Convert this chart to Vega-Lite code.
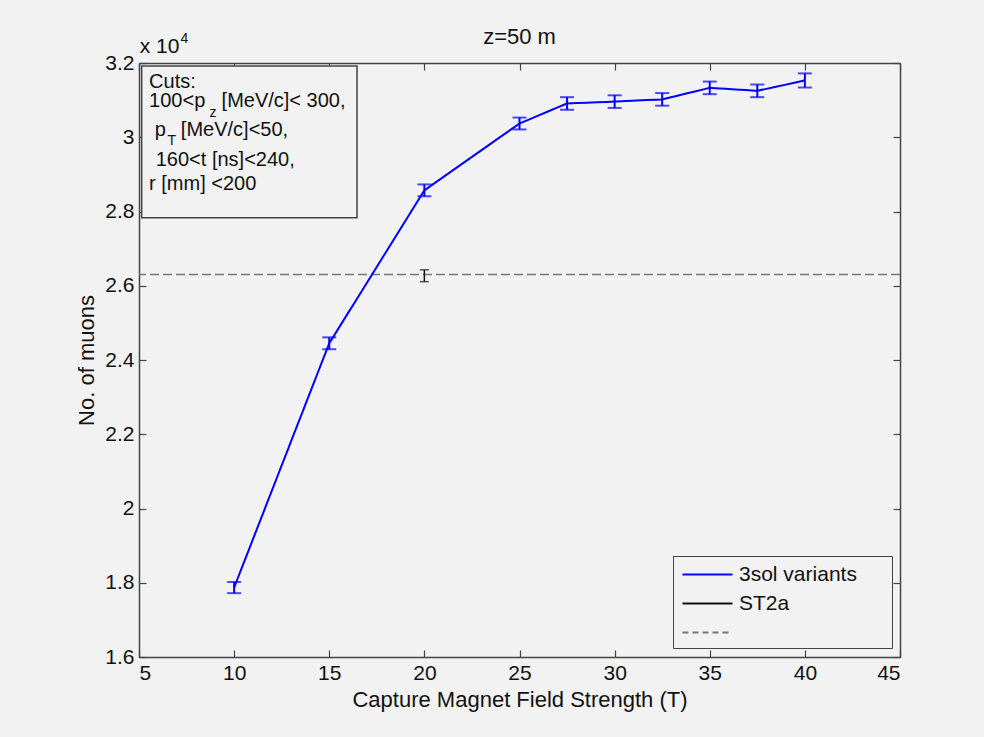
{
  "$schema": "https://vega.github.io/schema/vega-lite/v6.json",
  "width": 761,
  "height": 594,
  "autosize": {"type": "none"},
  "padding": {"left": 139, "top": 63, "right": 84, "bottom": 80},
  "background": "#f2f2f2",
  "config": {
    "font": "Liberation Sans",
    "view": {"stroke": null},
    "axis": {
      "domainColor": "#444",
      "domainWidth": 1.5,
      "tickColor": "#444",
      "tickWidth": 1.2,
      "tickSize": -7,
      "labelFontSize": 21,
      "labelColor": "#111",
      "titleFontSize": 22,
      "titleFontWeight": "normal",
      "titleColor": "#111",
      "grid": false
    },
    "legend": {
      "symbolType": "M-2,0H2",
      "symbolSize": 625,
      "symbolOffset": 16,
      "symbolStrokeWidth": 2,
      "labelFontSize": 21,
      "labelColor": "#111",
      "labelOffset": 18,
      "labelLimit": 400,
      "fillColor": "#f2f2f2",
      "strokeColor": "#444",
      "padding": 5,
      "rowPadding": 5
    }
  },
  "title": {"text": "z=50 m", "fontSize": 22, "fontWeight": "normal", "color": "#111", "offset": -17},
  "datasets": {
    "muons": [
      {"field_T": 10, "muons": 1.787, "lo": 1.772, "hi": 1.802, "series": "3sol variants"},
      {"field_T": 15, "muons": 2.445, "lo": 2.429, "hi": 2.461, "series": "3sol variants"},
      {"field_T": 20, "muons": 2.857, "lo": 2.841, "hi": 2.873, "series": "3sol variants"},
      {"field_T": 25, "muons": 3.037, "lo": 3.021, "hi": 3.053, "series": "3sol variants"},
      {"field_T": 27.5, "muons": 3.091, "lo": 3.074, "hi": 3.108, "series": "3sol variants"},
      {"field_T": 30, "muons": 3.096, "lo": 3.079, "hi": 3.113, "series": "3sol variants"},
      {"field_T": 32.5, "muons": 3.102, "lo": 3.085, "hi": 3.119, "series": "3sol variants"},
      {"field_T": 35, "muons": 3.133, "lo": 3.116, "hi": 3.150, "series": "3sol variants"},
      {"field_T": 37.5, "muons": 3.125, "lo": 3.108, "hi": 3.142, "series": "3sol variants"},
      {"field_T": 40, "muons": 3.153, "lo": 3.134, "hi": 3.172, "series": "3sol variants"}
    ],
    "st2a": [
      {"field_T": 20, "muons": 2.627, "lo": 2.611, "hi": 2.643, "series": "ST2a"}
    ],
    "one": [{}]
  },
  "layer": [
    {
      "data": {"name": "one"},
      "mark": {"type": "rule", "strokeDash": [9, 4], "color": "#777", "strokeWidth": 1.5},
      "encoding": {
        "y": {"datum": 2.63, "type": "quantitative", "scale": {"domain": [1.6, 3.2], "nice": false, "zero": false}, "axis": null}
      }
    },
    {
      "data": {"name": "muons"},
      "mark": {"type": "line", "strokeWidth": 2},
      "encoding": {
        "x": {"field": "field_T", "type": "quantitative", "scale": {"domain": [5, 45], "nice": false, "zero": false},
              "axis": {"orient": "bottom", "values": [5, 10, 15, 20, 25, 30, 35, 40, 45], "title": "Capture Magnet Field Strength (T)", "labelPadding": 12, "titlePadding": 6}},
        "y": {"field": "muons", "type": "quantitative", "scale": {"domain": [1.6, 3.2], "nice": false, "zero": false},
              "axis": {"orient": "left", "values": [1.6, 1.8, 2, 2.2, 2.4, 2.6, 2.8, 3, 3.2], "format": "~g", "title": "No. of muons", "labelPadding": 12, "titlePadding": 6}},
        "color": {"field": "series", "type": "nominal",
                  "scale": {"domain": ["3sol variants", "ST2a", " "], "range": ["#0000ff", "#111111", "#777777"]},
                  "legend": {"title": null, "orient": "none", "legendX": 534, "legendY": 493,
                             "labelExpr": "datum.label + '\u2800\u2800'"}},
        "strokeDash": {"field": "series", "type": "nominal",
                       "scale": {"domain": ["3sol variants", "ST2a", " "], "range": [[10, 0], [10, 0], [6, 4]]},
                       "legend": {"title": null, "orient": "none", "legendX": 534, "legendY": 493,
                                  "labelExpr": "datum.label + '\u2800\u2800'"}}
      }
    },
    {
      "data": {"name": "muons"},
      "mark": {"type": "errorbar", "ticks": {"size": 14}, "thickness": 2, "color": "#0000ff"},
      "encoding": {
        "x": {"field": "field_T", "type": "quantitative", "axis": null},
        "y": {"field": "lo", "type": "quantitative", "axis": null},
        "y2": {"field": "hi"}
      }
    },
    {
      "data": {"name": "st2a"},
      "mark": {"type": "errorbar", "ticks": {"size": 9}, "thickness": 1.5, "color": "#111"},
      "encoding": {
        "x": {"field": "field_T", "type": "quantitative", "axis": null},
        "y": {"field": "lo", "type": "quantitative", "axis": null},
        "y2": {"field": "hi"}
      }
    },
    {
      "data": {"name": "muons"},
      "mark": {"type": "point", "opacity": 0},
      "encoding": {
        "x": {"field": "field_T", "type": "quantitative", "axis": {"orient": "top", "labels": false, "title": null, "values": [5, 10, 15, 20, 25, 30, 35, 40, 45]}},
        "y": {"field": "muons", "type": "quantitative", "axis": {"orient": "right", "labels": false, "title": null, "values": [1.6, 1.8, 2, 2.2, 2.4, 2.6, 2.8, 3, 3.2]}}
      }
    },
    {
      "data": {"name": "one"},
      "mark": {"type": "rect", "fill": "#f2f2f2", "stroke": "#444", "strokeWidth": 1.5},
      "encoding": {
        "x": {"datum": 5.14, "type": "quantitative", "axis": null},
        "x2": {"datum": 16.46},
        "y": {"datum": 3.192, "type": "quantitative", "axis": null},
        "y2": {"datum": 2.783}
      }
    },
    {
      "data": {"name": "one"},
      "mark": {"type": "text", "align": "left", "baseline": "middle", "fontSize": 20, "color": "#111"},
      "encoding": {"x": {"datum": 5.53, "type": "quantitative", "axis": null}, "y": {"datum": 3.1497, "type": "quantitative", "axis": null}, "text": {"value": "Cuts:"}}
    },
    {
      "data": {"name": "one"},
      "mark": {"type": "text", "align": "left", "baseline": "middle", "fontSize": 20, "color": "#111"},
      "encoding": {"x": {"datum": 5.53, "type": "quantitative", "axis": null}, "y": {"datum": 3.0977, "type": "quantitative", "axis": null}, "text": {"value": "100<p"}}
    },
    {
      "data": {"name": "one"},
      "mark": {"type": "text", "align": "left", "baseline": "middle", "fontSize": 14, "color": "#111"},
      "encoding": {"x": {"datum": 8.7, "type": "quantitative", "axis": null}, "y": {"datum": 3.066, "type": "quantitative", "axis": null}, "text": {"value": "z"}}
    },
    {
      "data": {"name": "one"},
      "mark": {"type": "text", "align": "left", "baseline": "middle", "fontSize": 20, "color": "#111"},
      "encoding": {"x": {"datum": 9.34, "type": "quantitative", "axis": null}, "y": {"datum": 3.0977, "type": "quantitative", "axis": null}, "text": {"value": "[MeV/c]< 300,"}}
    },
    {
      "data": {"name": "one"},
      "mark": {"type": "text", "align": "left", "baseline": "middle", "fontSize": 20, "color": "#111"},
      "encoding": {"x": {"datum": 5.83, "type": "quantitative", "axis": null}, "y": {"datum": 3.0195, "type": "quantitative", "axis": null}, "text": {"value": "p"}}
    },
    {
      "data": {"name": "one"},
      "mark": {"type": "text", "align": "left", "baseline": "middle", "fontSize": 14, "color": "#111"},
      "encoding": {"x": {"datum": 6.5, "type": "quantitative", "axis": null}, "y": {"datum": 2.99, "type": "quantitative", "axis": null}, "text": {"value": "T"}}
    },
    {
      "data": {"name": "one"},
      "mark": {"type": "text", "align": "left", "baseline": "middle", "fontSize": 20, "color": "#111"},
      "encoding": {"x": {"datum": 7.2, "type": "quantitative", "axis": null}, "y": {"datum": 3.0195, "type": "quantitative", "axis": null}, "text": {"value": "[MeV/c]<50,"}}
    },
    {
      "data": {"name": "one"},
      "mark": {"type": "text", "align": "left", "baseline": "middle", "fontSize": 20, "color": "#111"},
      "encoding": {"x": {"datum": 5.88, "type": "quantitative", "axis": null}, "y": {"datum": 2.9387, "type": "quantitative", "axis": null}, "text": {"value": "160<t [ns]<240,"}}
    },
    {
      "data": {"name": "one"},
      "mark": {"type": "text", "align": "left", "baseline": "middle", "fontSize": 20, "color": "#111"},
      "encoding": {"x": {"datum": 5.53, "type": "quantitative", "axis": null}, "y": {"datum": 2.874, "type": "quantitative", "axis": null}, "text": {"value": "r [mm] <200"}}
    },
    {
      "data": {"name": "one"},
      "mark": {"type": "text", "align": "left", "baseline": "middle", "fontSize": 21, "color": "#111"},
      "encoding": {"x": {"datum": 5.04, "type": "quantitative", "axis": null}, "y": {"datum": 3.2444, "type": "quantitative", "axis": null}, "text": {"value": "x 10"}}
    },
    {
      "data": {"name": "one"},
      "mark": {"type": "text", "align": "left", "baseline": "middle", "fontSize": 14, "color": "#111"},
      "encoding": {"x": {"datum": 7.18, "type": "quantitative", "axis": null}, "y": {"datum": 3.2659, "type": "quantitative", "axis": null}, "text": {"value": "4"}}
    }
  ],
  "resolve": {"axis": {"x": "independent", "y": "independent"}}
}
